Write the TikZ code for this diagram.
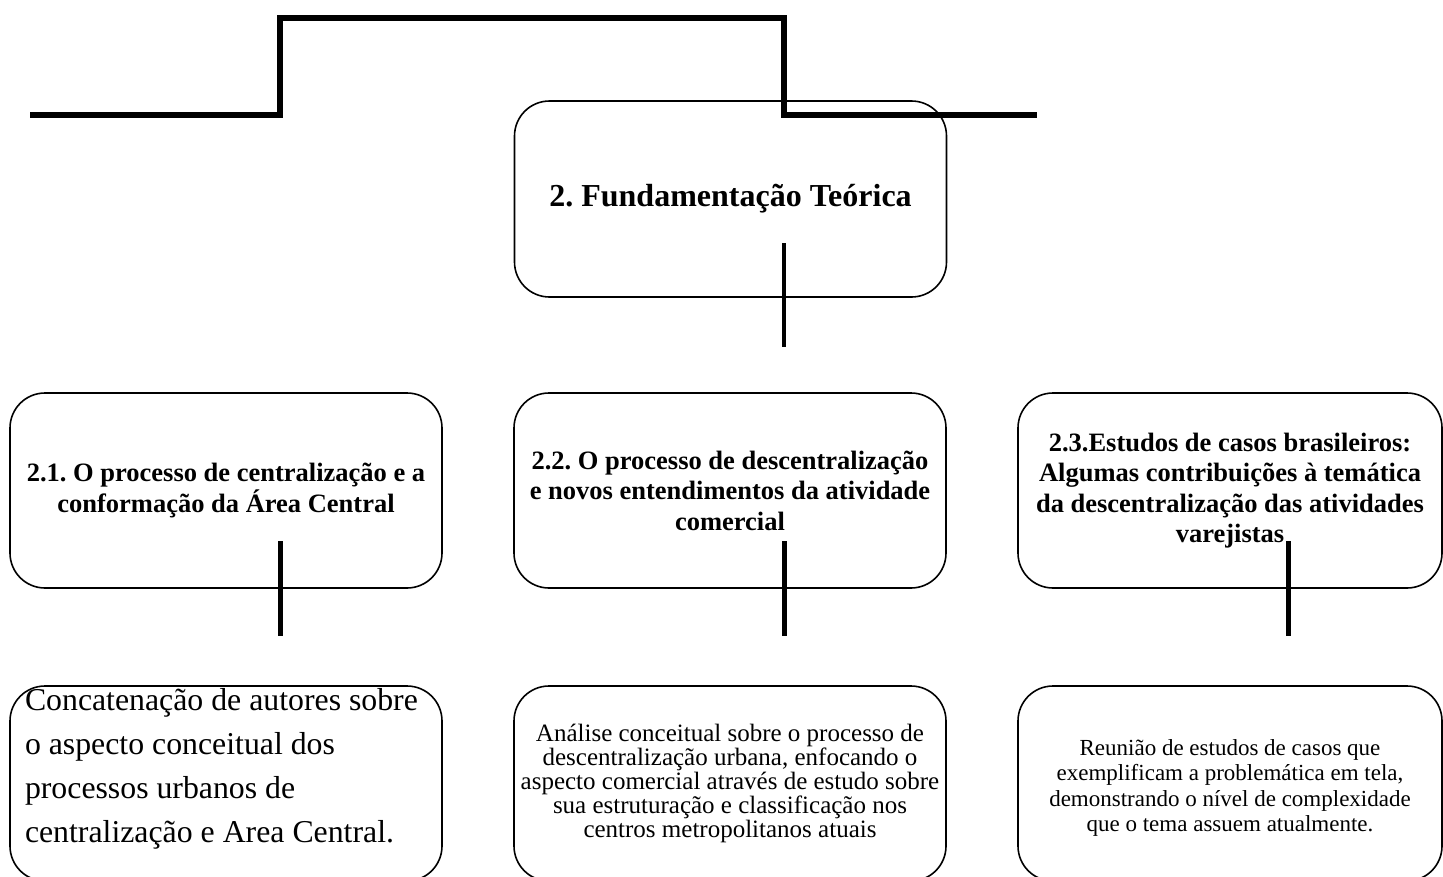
\documentclass[tikz,border=0pt]{standalone}
\usepackage{fontspec}
\setmainfont{Liberation Serif}
\frenchspacing
\tikzset{
  caixa/.style={draw,rounded corners=35pt,line width=1.6pt,inner sep=0pt,
    minimum width=432pt,minimum height=195pt,align=center},
  titulo/.style={font=\fontsize{32}{37}\selectfont\bfseries},
  sub/.style={font=\fontsize{26.5}{30.5}\selectfont\bfseries},
  haste/.style={line width=5pt},
  degrau/.style={line width=5.5pt},
}

\begin{document}
\begin{tikzpicture}[x=1pt,y=-1pt]
  \clip (0,0) rectangle (1443,876);
  \draw[degrau] (30,115) -- (280,115) -- (280,18) -- (784,18) -- (784,115) -- (1037,115);
  \node[caixa,minimum height=196pt,titulo] (tema) at (730.5,199) {2. Fundamentação Teórica};
  \coordinate (t1) at (784,243); \coordinate (t2) at (784,347);
  \draw[haste,line width=4pt] (t1) -- (t2);
  % segundo nivel
  \node[caixa,sub] (c21) at (226,490.5) {2.1. O processo de centralização e a\\conformação da Área Central};
  \node[caixa,sub] (c22) at (730,490.5) {2.2. O processo de descentralização\\e novos entendimentos da atividade\\comercial};
  \node[caixa,sub,minimum width=424pt] (c23) at (1230,490.5) {2.3.Estudos de casos brasileiros:\\Algumas contribuições à temática\\da descentralização das atividades\\varejistas};
  \coordinate (s1) at (280,541); \coordinate (e1) at (280,636);
  \coordinate (s2) at (784,541); \coordinate (e2) at (784,636);
  \coordinate (s3) at (1288,541); \coordinate (e3) at (1288,636);
  \draw[haste] (s1) -- (e1);
  \draw[haste] (s2) -- (e2);
  \draw[haste] (s3) -- (e3);
  % terceiro nivel
  \node[caixa,text width=402pt,align=flush left,font=\fontsize{31.8}{44}\selectfont,
    execute at end node={\par\vspace*{30pt}}] (d21) at (226,783.5)
    {Concatenação de autores sobre\\o aspecto conceitual dos\\processos urbanos de\\centralização e Area Central.};
  \node[caixa,font=\fontsize{25}{24}\selectfont] (d22) at (730,783.5)
    {Análise conceitual sobre o processo de\\descentralização urbana, enfocando o\\aspecto comercial através de estudo sobre\\sua estruturação e classificação nos\\centros metropolitanos atuais};
  \node[caixa,minimum width=424pt,text width=424pt,align=flush center,font=\fontsize{23}{25.5}\selectfont,
    execute at end node={\par\vspace*{-9pt}}] (d23) at (1230,783.5)
    {Reunião de estudos de casos que\\exemplificam a problemática em tela,\\demonstrando o nível de complexidade\\que o tema assuem atualmente.};
\end{tikzpicture}
\end{document}
